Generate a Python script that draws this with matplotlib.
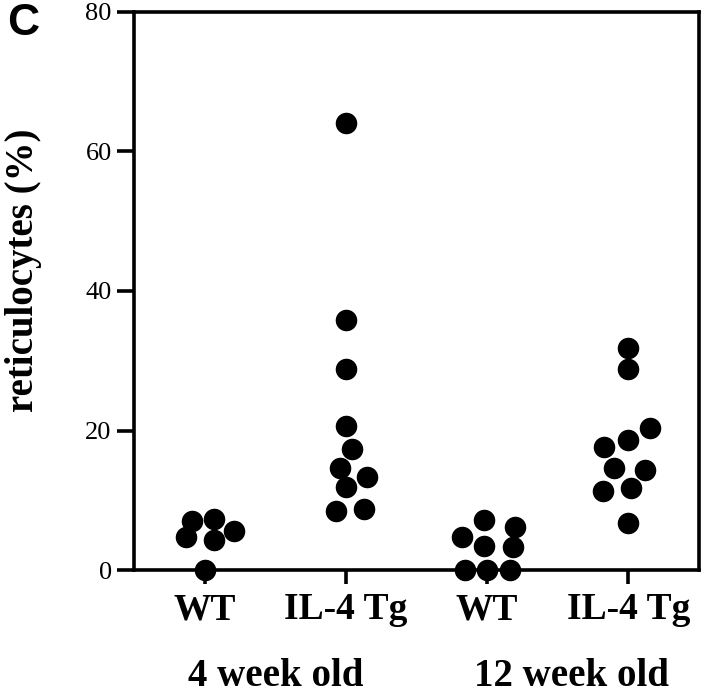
import matplotlib
matplotlib.use("Agg")
import matplotlib.pyplot as plt

# groups along the x axis
groups = ["WT", "IL-4 Tg", "WT", "IL-4 Tg"]
ages = ["4 week old", "12 week old"]

# reticulocytes (%) per mouse
wt_4wk = [0, 4.3, 4.7, 5.6, 7.1, 7.3]
tg_4wk = [64.1, 35.8, 28.8, 20.7, 17.4, 14.7, 13.3, 11.9, 8.5, 8.8]
wt_12wk = [4.7, 7.2, 6.2, 3.5, 3.3, 0, 0, 0]
tg_12wk = [31.9, 28.8, 20.4, 18.7, 17.7, 14.7, 14.3, 11.3, 11.7, 6.8]

# horizontal spread of the dots within each column (as drawn in the figure)
spread_wt_4wk = [0, 0.07, -0.13, 0.21, -0.09, 0.07]
spread_tg_4wk = [0, 0, 0, 0, 0.04, -0.04, 0.15, 0, -0.07, 0.13]
spread_wt_12wk = [-0.18, -0.02, 0.2, -0.02, 0.18, -0.16, 0, 0.16]
spread_tg_12wk = [0, 0, 0.15, 0, -0.17, -0.1, 0.12, -0.18, 0.02, 0]

values = [wt_4wk, tg_4wk, wt_12wk, tg_12wk]
spreads = [spread_wt_4wk, spread_tg_4wk, spread_wt_12wk, spread_tg_12wk]

serif = ["Liberation Serif", "DejaVu Serif"]

fig = plt.figure(figsize=(7.2, 6.97), dpi=100)
ax = fig.add_axes([0.186, 0.182, 0.785, 0.801])

for i, (vals, sp) in enumerate(zip(values, spreads)):
    xs = [i + 1 + s for s in sp]
    ax.plot(xs, vals, "o", color="black", markersize=14.5,
            linestyle="none", clip_on=False, zorder=5)

ax.set_xlim(0.5, 4.5)
ax.set_ylim(0, 80)

for s in ax.spines.values():
    s.set_linewidth(2.6)

ax.set_yticks([0, 20, 40, 60, 80])
ax.set_yticklabels(["0", "20", "40", "60", "80"], family=serif, fontsize=19)
ax.tick_params(axis="y", length=12, width=2.6, pad=4)

ax.set_xticks([1, 2, 3, 4])
ax.set_xticklabels(groups, family=serif, fontsize=27, fontweight="bold")
ax.tick_params(axis="x", length=10, width=2.6, pad=6)

ax.set_ylabel("reticulocytes (%)", family=serif, fontsize=28,
              fontweight="bold")
ax.yaxis.set_label_coords(-0.163, 0.538)

ax.text(0.251, -0.207, ages[0], transform=ax.transAxes, ha="center", va="baseline",
        family=serif, fontsize=28, fontweight="bold")
ax.text(0.775, -0.207, ages[1], transform=ax.transAxes, ha="center", va="baseline",
        family=serif, fontsize=28, fontweight="bold")

fig.text(0.01, 0.967, "C", family=["Liberation Sans", "DejaVu Sans"],
         fontsize=32, fontweight="bold", ha="left", va="center")

fig.savefig("out.png", dpi=100)
